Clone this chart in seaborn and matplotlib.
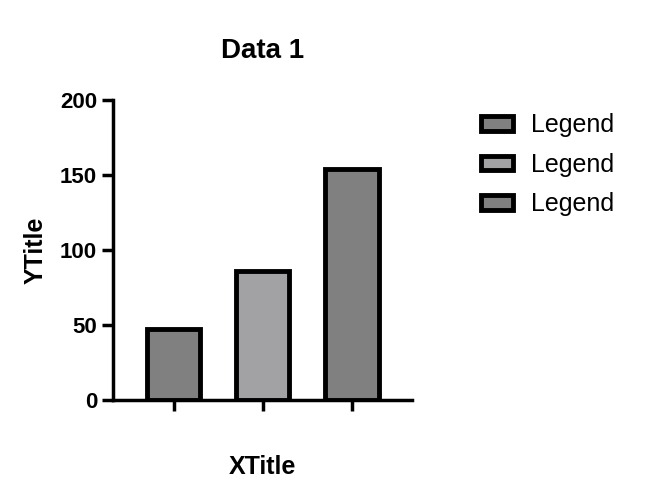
import matplotlib
matplotlib.use("Agg")
import matplotlib.pyplot as plt
import pandas as pd
import seaborn as sns

# chart values
categories = ["A", "B", "C"]
values = [47, 86, 154]
bar_colors = ["#808080", "#a2a1a6", "#808080"]
legend_labels = ["Legend", "Legend", "Legend"]
y_ticks = [0, 50, 100, 150, 200]

sns.set_style("ticks")
plt.rcParams["font.family"] = ["Liberation Sans", "DejaVu Sans"]
plt.rcParams["text.color"] = "black"
plt.rcParams["axes.labelcolor"] = "black"
plt.rcParams["xtick.color"] = "black"
plt.rcParams["ytick.color"] = "black"

df = pd.DataFrame({"category": categories, "value": values})

fig = plt.figure(figsize=(6.47, 4.84), dpi=100)
ax = fig.add_axes([0.1747, 0.1736, 0.4627, 0.6198])

sns.barplot(
    data=df,
    x="category",
    y="value",
    hue="category",
    palette=bar_colors,
    width=0.6,
    edgecolor="black",
    linewidth=3.5,
    legend=False,
    ax=ax,
)

ax.set_xlim(-0.68, 2.68)
ax.set_ylim(0, 200)
ax.set_yticks(y_ticks)
ax.set_xticks(range(len(categories)))
ax.set_xticklabels([""] * len(categories))

for side in ["top", "right"]:
    ax.spines[side].set_visible(False)
for side in ["left", "bottom"]:
    ax.spines[side].set_linewidth(2.5)
    ax.spines[side].set_color("black")
ax.tick_params(axis="both", direction="out", length=8, width=2.5, color="black")
for lbl in ax.get_yticklabels():
    lbl.set_fontsize(16)
    lbl.set_fontweight("bold")

ax.set_title("Data 1", fontsize=20, fontweight="bold", pad=30)
ax.set_xlabel("XTitle", fontsize=18, fontweight="bold", labelpad=28)
ax.set_ylabel("YTitle", fontsize=18, fontweight="bold", labelpad=9)

ax.legend(
    handles=list(ax.patches),
    labels=legend_labels,
    loc="upper left",
    bbox_to_anchor=(1.153, 1.03),
    frameon=False,
    fontsize=18,
    handlelength=1.28,
    handleheight=0.5,
    handletextpad=0.72,
    labelspacing=0.62,
)

fig.savefig("out.png", dpi=100)
